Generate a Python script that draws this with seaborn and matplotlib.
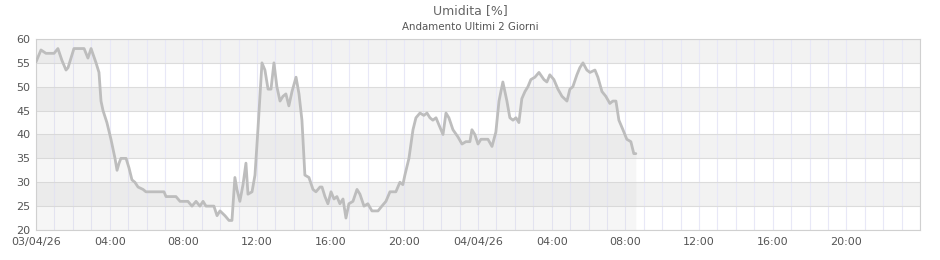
import matplotlib
matplotlib.use("Agg")
import matplotlib.pyplot as plt
import seaborn as sns
import pandas as pd
import numpy as np

# Hours since 03/04/26 00:00
hours = [0, 0.27, 0.54, 0.98, 1.19, 1.41, 1.63, 1.74, 2.06, 2.61, 2.82, 2.99, 3.26, 3.42,
         3.53, 3.64, 3.85, 4.07, 4.29, 4.40, 4.51, 4.61, 4.89, 5.05, 5.21, 5.37, 5.54, 5.81,
         5.97, 6.95, 7.06, 7.60, 7.82, 8.25, 8.47, 8.69, 8.90, 9.07, 9.23, 9.66, 9.83, 9.99,
         10.26, 10.48, 10.64, 10.80, 10.91, 11.07, 11.24, 11.40, 11.51, 11.73, 11.89, 12.05,
         12.16, 12.27, 12.43, 12.60, 12.76, 12.92, 13.08, 13.25, 13.41, 13.57, 13.73, 13.90,
         14.12, 14.28, 14.44, 14.60, 14.82, 15.04, 15.20, 15.42, 15.53, 15.69, 15.85, 16.02,
         16.18, 16.34, 16.50, 16.67, 16.83, 16.99, 17.21, 17.43, 17.59, 17.81, 18.02, 18.24,
         18.57, 18.78, 19.00, 19.22, 19.54, 19.76, 19.92, 20.03, 20.25, 20.47, 20.63, 20.85,
         21.06, 21.23, 21.39, 21.55, 21.72, 21.88, 22.10, 22.26, 22.42, 22.64, 22.91, 23.13,
         23.34, 23.56, 23.67, 23.83, 24.00, 24.16, 24.54, 24.76, 24.97, 25.14, 25.35, 25.57,
         25.73, 25.90, 26.06, 26.22, 26.38, 26.55, 26.71, 26.87, 27.09, 27.31, 27.58, 27.74,
         27.90, 28.12, 28.34, 28.56, 28.83, 28.99, 29.15, 29.37, 29.53, 29.70, 29.91, 30.08,
         30.35, 30.51, 30.73, 30.94, 31.16, 31.32, 31.49, 31.65, 31.87, 32.08, 32.30, 32.46,
         32.57]

humidity = [55.2, 57.7, 57, 57, 58, 55.5, 53.5, 54, 58, 58, 56, 58, 55, 53,
            47, 45, 42.5, 39, 35, 32.5, 34, 35, 35, 33, 30.5, 30, 29, 28.5,
            28, 28, 27, 27, 26, 26, 25, 26, 25, 26, 25, 25, 23, 24,
            23, 22, 22, 31, 28.5, 26, 29.5, 34, 27.5, 28, 31.5, 41,
            48, 55, 53.5, 49.5, 49.5, 55, 50, 47, 48, 48.5, 46, 49,
            52, 48.5, 43, 31.5, 31, 28.5, 28, 29, 29, 27, 25.5, 28,
            26.5, 27, 25.5, 26.5, 22.5, 25.5, 26, 28.5, 27.5, 25, 25.5, 24,
            24, 25, 26, 28, 28, 30, 29.5, 31.5, 35, 41, 43.5, 44.5,
            44, 44.5, 43.5, 43, 43.5, 42, 40, 44.5, 43.5, 41, 39.5, 38,
            38.5, 38.5, 41, 40, 38, 39, 39, 37.5, 40.5, 47, 51, 47,
            43.5, 43, 43.5, 42.5, 47.5, 49, 50, 51.5, 52, 53, 51.5, 51,
            52.5, 51.5, 49.5, 48, 47, 49.5, 50, 52.5, 54, 55, 53.5, 53,
            53.5, 52, 49, 48, 46.5, 47, 47, 43, 41, 39, 38.5, 36,
            36]

tick_hours = [0, 4, 8, 12, 16, 20, 24, 28, 32, 36, 40, 44]
tick_labels = ["03/04/26", "04:00", "08:00", "12:00", "16:00", "20:00",
               "04/04/26", "04:00", "08:00", "12:00", "16:00", "20:00"]
y_ticks = [20, 25, 30, 35, 40, 45, 50, 55, 60]

df = pd.DataFrame({"hour": hours, "value": humidity})

sns.set_theme(style="white")
plt.rcParams['font.family'] = ['DejaVu Sans']

fig = plt.figure(figsize=(9.4, 2.6), dpi=100)
ax = fig.add_axes([36/940, 1-230/260, (920-36)/940, (230-39)/260])

# alternating bands
for i, lo in enumerate(y_ticks[:-1]):
    if (lo // 5) % 2 == 1:  # 25-30, 35-40, 45-50, 55-60
        ax.axhspan(lo, lo + 5, color="#f2f2f2", zorder=0, lw=0)

# grid
for h in range(0, 49):
    ax.axvline(h, color="#e8e8f7", lw=0.8, zorder=1)
for v in y_ticks:
    ax.axhline(v, color="#dcdcdc", lw=0.8, zorder=1)

ax.fill_between(df["hour"], df["value"], 20, color="#c8c8c8", alpha=0.15, lw=0, zorder=2)
sns.lineplot(data=df, x="hour", y="value", ax=ax, color="#bdbdbd", lw=2, zorder=3)

ax.set_xlim(0, 48)
ax.set_ylim(20, 60)
ax.set_xticks(tick_hours)
ax.set_xticklabels(tick_labels)
ax.set_yticks(y_ticks)
ax.set_yticklabels([str(v) for v in y_ticks])
ax.tick_params(axis="both", length=0, labelsize=8, colors="#555555")
ax.tick_params(axis="x", pad=5)
ax.tick_params(axis="y", pad=4)
ax.set_xlabel("")
ax.set_ylabel("")
for s in ax.spines.values():
    s.set_color("#d0d0d0")
    s.set_linewidth(0.8)

fig.text(470/940, 1-11/260, "Umidita [%]", ha="center", va="center", fontsize=9, color="#666666")
fig.text(470/940, 1-27/260, "Andamento Ultimi 2 Giorni", ha="center", va="center", fontsize=7.4, color="#555555")

fig.savefig("out.png", dpi=100)
